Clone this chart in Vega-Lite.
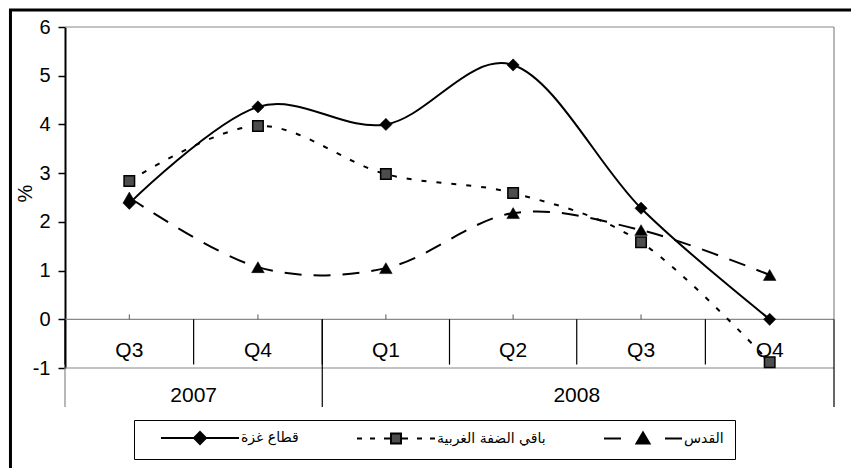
{
  "$schema": "https://vega.github.io/schema/vega-lite/v6.json",
  "width": 842,
  "height": 459,
  "autosize": "none",
  "padding": {"left": 9, "top": 9, "right": 0, "bottom": 0},
  "background": "white",
  "config": {"view": {"stroke": null}, "font": "Liberation Sans"},
  "datasets": {
    "series": [
      {"q": "2007-07-01", "series": "قطاع غزة", "value": 2.38},
      {"q": "2007-10-01", "series": "قطاع غزة", "value": 4.36},
      {"q": "2008-01-01", "series": "قطاع غزة", "value": 4.0},
      {"q": "2008-04-01", "series": "قطاع غزة", "value": 5.22},
      {"q": "2008-07-01", "series": "قطاع غزة", "value": 2.28},
      {"q": "2008-10-01", "series": "قطاع غزة", "value": 0.0},
      {"q": "2007-07-01", "series": "باقي الضفة الغربية", "value": 2.84},
      {"q": "2007-10-01", "series": "باقي الضفة الغربية", "value": 3.97},
      {"q": "2008-01-01", "series": "باقي الضفة الغربية", "value": 2.98},
      {"q": "2008-04-01", "series": "باقي الضفة الغربية", "value": 2.59},
      {"q": "2008-07-01", "series": "باقي الضفة الغربية", "value": 1.58},
      {"q": "2008-10-01", "series": "باقي الضفة الغربية", "value": -0.88},
      {"q": "2007-07-01", "series": "القدس", "value": 2.5},
      {"q": "2007-10-01", "series": "القدس", "value": 1.07},
      {"q": "2008-01-01", "series": "القدس", "value": 1.05},
      {"q": "2008-04-01", "series": "القدس", "value": 2.18},
      {"q": "2008-07-01", "series": "القدس", "value": 1.83},
      {"q": "2008-10-01", "series": "القدس", "value": 0.91}
    ],
    "quarters": [
      {"q": "2007-07-01", "label": "Q3"},
      {"q": "2007-10-01", "label": "Q4"},
      {"q": "2008-01-01", "label": "Q1"},
      {"q": "2008-04-01", "label": "Q2"},
      {"q": "2008-07-01", "label": "Q3"},
      {"q": "2008-10-01", "label": "Q4"}
    ]
  },
  "layer": [
    {
      "data": {"values": [{}]},
      "mark": {"type": "rule", "color": "#888888", "strokeWidth": 1.2},
      "encoding": {
        "x": {"datum": {"year": 2007, "month": 7, "date": 1, "utc": true}, "type": "temporal", "axis": null,
              "scale": {"type": "utc", "domain": [{"year": 2007, "month": 7, "date": 1, "utc": true}, {"year": 2009, "month": 1, "date": 1, "utc": true}], "range": [56, 825], "nice": false}},
        "x2": {"datum": {"year": 2009, "month": 1, "date": 1, "utc": true}},
        "y": {"datum": 6, "type": "quantitative",
              "scale": {"domain": [-1, 6], "range": [359, 18], "nice": false, "zero": false},
              "title": "%",
              "axis": {"values": [-1, 0, 1, 2, 3, 4, 5, 6], "labelExpr": "'' + datum.value", "offset": -56, "domain": true, "domainColor": "black", "domainWidth": 2,
                       "grid": false, "ticks": true, "tickSize": 7, "tickColor": "black", "tickWidth": 1.5,
                       "labelFont": "Liberation Sans", "labelFontSize": 20, "labelColor": "black", "labelPadding": 8,
                       "titleFont": "Liberation Sans", "titleFontSize": 20, "titleFontWeight": "normal", "titleColor": "black",
                       "titleX": -40, "titleY": 184, "titleBaseline": "middle"}}
      }
    },
    {
      "data": {"values": [{}]},
      "mark": {"type": "rule", "color": "#888888", "strokeWidth": 1.2},
      "encoding": {
        "x": {"datum": {"year": 2007, "month": 7, "date": 1, "utc": true}, "type": "temporal"},
        "x2": {"datum": {"year": 2009, "month": 1, "date": 1, "utc": true}},
        "y": {"datum": 0, "type": "quantitative"}
      }
    },
    {
      "data": {"values": [{}]},
      "mark": {"type": "rule", "color": "#888888", "strokeWidth": 1.2},
      "encoding": {
        "x": {"datum": {"year": 2007, "month": 7, "date": 1, "utc": true}, "type": "temporal"},
        "x2": {"datum": {"year": 2009, "month": 1, "date": 1, "utc": true}},
        "y": {"datum": -1, "type": "quantitative"}
      }
    },
    {
      "data": {"values": [{}]},
      "mark": {"type": "rule", "color": "#888888", "strokeWidth": 1.2},
      "encoding": {
        "x": {"datum": {"year": 2009, "month": 1, "date": 1, "utc": true}, "type": "temporal"},
        "y": {"datum": 6, "type": "quantitative"},
        "y2": {"datum": 0}
      }
    },
    {
      "data": {"values": [{}]},
      "mark": {"type": "rule", "color": "black", "strokeWidth": 1.2},
      "encoding": {
        "x": {"datum": {"year": 2009, "month": 1, "date": 1, "utc": true}, "type": "temporal"},
        "y": {"datum": 0, "type": "quantitative"},
        "y2": {"datum": -1.8}
      }
    },
    {
      "data": {"values": [{}]},
      "mark": {"type": "rule", "color": "black", "strokeWidth": 1.2},
      "encoding": {
        "x": {"datum": {"year": 2008, "month": 1, "date": 1, "utc": true}, "type": "temporal"},
        "y": {"datum": 0, "type": "quantitative"},
        "y2": {"datum": -1.8}
      }
    },
    {
      "data": {"values": [{}]},
      "mark": {"type": "rule", "color": "#888888", "strokeWidth": 1.2},
      "encoding": {
        "x": {"datum": {"year": 2007, "month": 7, "date": 1, "utc": true}, "type": "temporal"},
        "y": {"datum": -1, "type": "quantitative"},
        "y2": {"datum": -1.8}
      }
    },
    {
      "data": {"values": [{}]},
      "mark": {"type": "rule", "color": "black", "strokeWidth": 3},
      "encoding": {
        "y": {"datum": 6.349, "type": "quantitative"}
      }
    },
    {
      "data": {"values": [{}]},
      "mark": {"type": "rule", "color": "black", "strokeWidth": 3},
      "encoding": {
        "x": {"datum": {"year": 2007, "month": 5, "date": 23, "utc": true}, "type": "temporal"}
      }
    },
    {
      "data": {"name": "quarters"},
      "mark": {"type": "rule", "color": "black", "strokeWidth": 1.2},
      "encoding": {
        "x": {"field": "q", "type": "temporal"},
        "y": {"datum": 0, "type": "quantitative"},
        "y2": {"datum": -0.93}
      }
    },
    {
      "data": {"name": "quarters"},
      "mark": {"type": "rule", "color": "#555555", "strokeWidth": 1},
      "encoding": {
        "x": {"field": "q", "type": "temporal", "timeUnit": "utcyearquarter", "bandPosition": 0.5},
        "y": {"datum": 0, "type": "quantitative"},
        "y2": {"datum": 0.1}
      }
    },
    {
      "data": {"name": "quarters"},
      "mark": {"type": "text", "font": "Liberation Sans", "fontSize": 21, "color": "black", "baseline": "alphabetic", "align": "center"},
      "encoding": {
        "x": {"field": "q", "type": "temporal", "timeUnit": "utcyearquarter", "bandPosition": 0.5},
        "y": {"datum": -0.78, "type": "quantitative"},
        "text": {"field": "label", "type": "nominal"}
      }
    },
    {
      "data": {"values": [{}]},
      "mark": {"type": "text", "text": "2007", "font": "Liberation Sans", "fontSize": 21, "color": "black", "baseline": "alphabetic", "align": "center"},
      "encoding": {
        "x": {"datum": {"year": 2007, "month": 10, "date": 1, "utc": true}, "type": "temporal"},
        "y": {"datum": -1.7, "type": "quantitative"}
      }
    },
    {
      "data": {"values": [{}]},
      "mark": {"type": "text", "text": "2008", "font": "Liberation Sans", "fontSize": 21, "color": "black", "baseline": "alphabetic", "align": "center"},
      "encoding": {
        "x": {"datum": {"year": 2008, "month": 7, "date": 1, "utc": true}, "type": "temporal"},
        "y": {"datum": -1.7, "type": "quantitative"}
      }
    },
    {
      "data": {"name": "series"},
      "transform": [{"filter": "datum.series === 'قطاع غزة'"}],
      "mark": {"type": "line", "interpolate": "cardinal", "color": "black", "strokeWidth": 2},
      "encoding": {
        "x": {"field": "q", "type": "temporal", "timeUnit": "utcyearquarter", "bandPosition": 0.5},
        "y": {"field": "value", "type": "quantitative", "title": "%"}
      }
    },
    {
      "data": {"name": "series"},
      "transform": [{"filter": "datum.series === 'باقي الضفة الغربية'"}],
      "mark": {"type": "line", "interpolate": "cardinal", "color": "black", "strokeWidth": 2, "strokeDash": [5, 10]},
      "encoding": {
        "x": {"field": "q", "type": "temporal", "timeUnit": "utcyearquarter", "bandPosition": 0.5},
        "y": {"field": "value", "type": "quantitative", "title": "%"}
      }
    },
    {
      "data": {"name": "series"},
      "transform": [{"filter": "datum.series === 'القدس'"}],
      "mark": {"type": "line", "interpolate": "cardinal", "color": "black", "strokeWidth": 2, "strokeDash": [17, 12]},
      "encoding": {
        "x": {"field": "q", "type": "temporal", "timeUnit": "utcyearquarter", "bandPosition": 0.5},
        "y": {"field": "value", "type": "quantitative", "title": "%"}
      }
    },
    {
      "data": {"name": "series"},
      "transform": [{"filter": "datum.series === 'قطاع غزة'"}],
      "mark": {"type": "point", "shape": "diamond", "filled": true, "size": 150, "fill": "black", "stroke": "black", "strokeWidth": 0.5, "opacity": 1},
      "encoding": {
        "x": {"field": "q", "type": "temporal", "timeUnit": "utcyearquarter", "bandPosition": 0.5},
        "y": {"field": "value", "type": "quantitative", "title": "%"}
      }
    },
    {
      "data": {"name": "series"},
      "transform": [{"filter": "datum.series === 'باقي الضفة الغربية'"}],
      "mark": {"type": "point", "shape": "square", "filled": true, "size": 110, "fill": "#4d4d4d", "stroke": "black", "strokeWidth": 1.5, "opacity": 1},
      "encoding": {
        "x": {"field": "q", "type": "temporal", "timeUnit": "utcyearquarter", "bandPosition": 0.5},
        "y": {"field": "value", "type": "quantitative", "title": "%"}
      }
    },
    {
      "data": {"name": "series"},
      "transform": [{"filter": "datum.series === 'القدس'"}],
      "mark": {"type": "point", "shape": "triangle-up", "filled": true, "size": 160, "fill": "black", "stroke": "black", "strokeWidth": 0.5, "opacity": 1},
      "encoding": {
        "x": {"field": "q", "type": "temporal", "timeUnit": "utcyearquarter", "bandPosition": 0.5},
        "y": {"field": "value", "type": "quantitative", "title": "%"}
      }
    },
    {
      "data": {"name": "series"},
      "mark": {"type": "point", "filled": true, "size": 100, "opacity": 0, "strokeWidth": 2},
      "encoding": {
        "x": {"field": "q", "type": "temporal", "timeUnit": "utcyearquarter", "bandPosition": 0.5},
        "y": {"field": "value", "type": "quantitative", "title": "%"},
        "fill": {"field": "series", "type": "nominal",
                 "scale": {"domain": ["قطاع غزة", "باقي الضفة الغربية", "القدس"], "range": ["black", "#4d4d4d", "black"]}},
        "stroke": {"field": "series", "type": "nominal",
                   "scale": {"domain": ["قطاع غزة", "باقي الضفة الغربية", "القدس"], "range": ["black", "black", "black"]}},
        "shape": {"field": "series", "type": "nominal",
                  "scale": {"domain": ["قطاع غزة", "باقي الضفة الغربية", "القدس"],
                            "range": ["M-1.4,0L14.2,0M6.4,-1.2L7.6,0L6.4,1.2L5.2,0Z",
                                      "M-1.4,0L-0.4,0M1.2,0L2.2,0M4,0L5.4,0M7.4,0L8.8,0M10.6,0L11.6,0M13.2,0L14.2,0M5.4,-1L7.4,-1L7.4,1L5.4,1Z",
                                      "M-1.4,0L2,0M10.8,0L14.2,0M6.4,-1.2L7.7,1L5.1,1Z"]},
                  "legend": {
                    "orient": "none", "legendX": 125, "legendY": 411, "direction": "horizontal", "title": null,
                    "padding": 11, "strokeColor": "black", "fillColor": "white",
                    "symbolSize": 100, "symbolStrokeWidth": 2, "symbolOpacity": 1,
                    "symbolOffset": 16,
                    "labelFont": "DejaVu Sans", "labelFontSize": 14, "labelColor": "black", "labelOffset": 66, "labelLimit": 300,
                    "columnPadding": 42
                  }}
      }
    }
  ]
}
